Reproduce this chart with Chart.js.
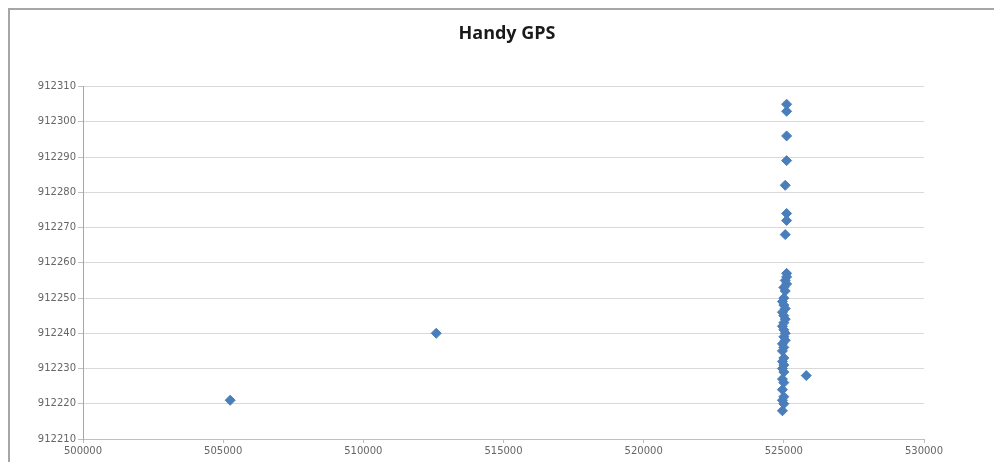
<!DOCTYPE html>
<html>
<head>
<meta charset="utf-8">
<script src="https://cdn.jsdelivr.net/npm/chart.js@4/dist/chart.umd.min.js"></script>
<style>
  html, body { margin: 0; padding: 0; background: #ffffff; }
  #wrap { position: relative; width: 994px; height: 462px; }
</style>
</head>
<body>
<div id="wrap"><canvas id="c" width="994" height="462"></canvas></div>
<script>
// Chart data (Easting / Northing readings of a handheld GPS)
const chartTitle = "Handy GPS";
const eastings = [
  505250, 512600, 525800,
  525100, 525100, 525100, 525100, 525050, 525100, 525100, 525050,
  525100, 525100, 525050, 525100, 525000, 525050, 525000, 524950,
  525000, 525050, 524950, 525000, 525050, 525000, 524950, 525000,
  525050, 525000, 525050, 524950, 525000, 524950, 525000, 524950,
  525000, 524950, 525000, 524950, 525000, 524950, 525000, 524950,
  525000, 524950
];
const northings = [
  912221, 912240, 912228,
  912305, 912303, 912296, 912289, 912282, 912274, 912272, 912268,
  912257, 912256, 912255, 912254, 912253, 912252, 912250, 912249,
  912248, 912247, 912246, 912245, 912244, 912243, 912242, 912241,
  912240, 912239, 912238, 912237, 912236, 912235, 912233, 912232,
  912231, 912230, 912229, 912227, 912226, 912224, 912222, 912221,
  912220, 912218
];
const xTicks = [500000, 505000, 510000, 515000, 520000, 525000, 530000];
const yTicks = [912210, 912220, 912230, 912240, 912250, 912260, 912270, 912280, 912290, 912300, 912310];

const points = eastings.map((e, i) => ({ x: e, y: northings[i] }));

const frame = {
  id: 'frame',
  beforeDraw(chart) {
    const ctx = chart.ctx;
    ctx.save();
    ctx.fillStyle = '#ffffff';
    ctx.fillRect(0, 0, chart.width, chart.height);
    ctx.strokeStyle = '#a6a6a6';
    ctx.lineWidth = 2;
    ctx.beginPath();
    ctx.moveTo(9, chart.height);
    ctx.lineTo(9, 9);
    ctx.lineTo(chart.width, 9);
    ctx.stroke();
    ctx.restore();
  }
};

new Chart(document.getElementById('c'), {
  type: 'scatter',
  data: {
    datasets: [{
      label: 'GPS',
      data: points,
      pointStyle: 'rectRot',
      pointRadius: 5,
      pointHoverRadius: 5,
      backgroundColor: '#4a7ebb',
      borderColor: '#4a7ebb',
      borderWidth: 1
    }]
  },
  options: {
    responsive: false,
    animation: false,
    layout: { padding: { left: 20, right: 0, top: 17, bottom: 0 } },
    plugins: {
      legend: { display: false },
      tooltip: { enabled: false },
      title: {
        display: true,
        text: chartTitle,
        color: '#1a1a1a',
        font: { family: 'Open Sans', size: 18, weight: 'bold' },
        padding: { top: 6, bottom: 42 }
      }
    },
    scales: {
      x: {
        type: 'linear',
        min: 500000,
        max: 530000,
        afterBuildTicks(scale) { scale.ticks = xTicks.map(v => ({ value: v })); },
        afterFit(scale) { scale.height = 23; },
        ticks: {
          color: '#666666',
          font: { family: 'DejaVu Sans', size: 10 },
          padding: 2,
          maxRotation: 0,
          autoSkip: false,
          callback: v => String(v)
        },
        grid: { drawOnChartArea: false, drawTicks: true, tickLength: 4, color: '#bfbfbf' },
        border: { display: true, color: '#bfbfbf', width: 1 }
      },
      y: {
        type: 'linear',
        min: 912210,
        max: 912310,
        afterBuildTicks(scale) { scale.ticks = yTicks.map(v => ({ value: v })); },
        afterFit(scale) { scale.width = 63; },
        ticks: {
          color: '#666666',
          font: { family: 'DejaVu Sans', size: 10 },
          padding: 2,
          autoSkip: false,
          callback: v => String(v)
        },
        grid: { color: '#d9d9d9', lineWidth: 1, tickLength: 5, tickColor: '#bfbfbf' },
        border: { display: true, color: '#a6a6a6', width: 1 }
      },
      yRight: {
        type: 'linear',
        position: 'right',
        display: true,
        afterFit(scale) { scale.width = 70; },
        ticks: { display: false },
        grid: { display: false },
        border: { display: false }
      }
    }
  },
  plugins: [frame]
});
</script>
</body>
</html>
